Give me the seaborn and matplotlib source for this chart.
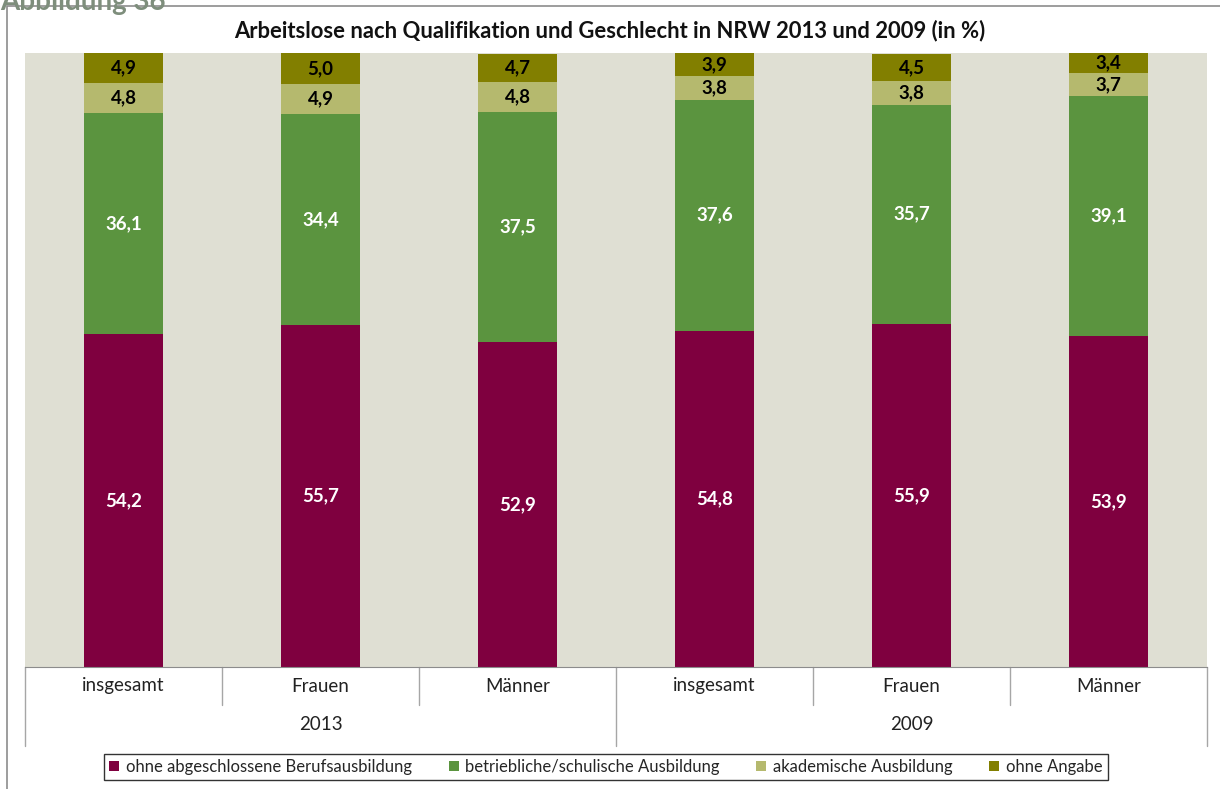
import pandas as pd
import seaborn as sns
import matplotlib.pyplot as plt
from matplotlib.patches import Rectangle, Patch
from matplotlib.lines import Line2D

# data
years = ['2013', '2013', '2013', '2009', '2009', '2009']
groups = ['insgesamt', 'Frauen', 'Männer', 'insgesamt', 'Frauen', 'Männer']
ohne_abschluss = [54.2, 55.7, 52.9, 54.8, 55.9, 53.9]
betrieblich = [36.1, 34.4, 37.5, 37.6, 35.7, 39.1]
akademisch = [4.8, 4.9, 4.8, 3.8, 3.8, 3.7]
ohne_angabe = [4.9, 5.0, 4.7, 3.9, 4.5, 3.4]

series_names = ['ohne abgeschlossene Berufsausbildung', 'betriebliche/schulische Ausbildung',
                'akademische Ausbildung', 'ohne Angabe']
series_values = [ohne_abschluss, betrieblich, akademisch, ohne_angabe]
colors = ['#7F003F', '#5B943F', '#B5B96E', '#827F00']
text_colors = ['white', 'white', 'black', 'black']

sns.set_style('white')
plt.rcParams['font.family'] = ['Lato', 'DejaVu Sans']

keys = [f'{y} {g}' for y, g in zip(years, groups)]

fig = plt.figure(figsize=(12.2, 7.89), dpi=100)
ax = fig.add_axes([25 / 1220, 1 - 667 / 789, (1207 - 25) / 1220, (667 - 53) / 789])
ax.set_facecolor('#DFDFD3')

bottom = [0.0] * len(keys)
for name, vals, col, tcol in zip(series_names, series_values, colors, text_colors):
    df = pd.DataFrame({'key': keys, 'value': vals})
    sns.barplot(data=df, x='key', y='value', order=keys, color=col, width=0.4,
                bottom=bottom, ax=ax, saturation=1, linewidth=0)
    for i, v in enumerate(vals):
        ax.text(i, bottom[i] + v / 2, f'{v:.1f}'.replace('.', ','), ha='center', va='center',
                color=tcol, fontsize=13.5, fontweight='bold')
    bottom = [b + v for b, v in zip(bottom, vals)]

ax.set_ylim(0, 100)
ax.set_xlim(-0.5, 5.5)
ax.set_yticks([])
ax.set_xticks([])
ax.set_xlabel('')
ax.set_ylabel('')
for s in ['top', 'right', 'left']:
    ax.spines[s].set_visible(False)
ax.spines['bottom'].set_color('#8C8C8C')

# two-level category axis
row_h = 38 / 614
line_kw = dict(color='#A6A6A6', lw=1, transform=ax.transAxes, clip_on=False)
for i, g in enumerate(groups):
    ax.text((i + 0.5) / 6, -row_h / 2, g, transform=ax.transAxes, ha='center', va='center',
            fontsize=13.5, color='#222222')
for xb in [0, 3 / 6, 1]:
    ax.add_line(Line2D([xb, xb], [0, -2 * row_h - 3 / 614], **line_kw))
for xb in [1 / 6, 2 / 6, 4 / 6, 5 / 6]:
    ax.add_line(Line2D([xb, xb], [0, -row_h], **line_kw))
for j, y in enumerate(['2013', '2009']):
    ax.text((j * 3 + 1.5) / 6, -1.5 * row_h, y, transform=ax.transAxes, ha='center',
            va='center', fontsize=13.5, color='#222222')

fig.text(610 / 1220, 1 - 31 / 789,
         'Arbeitslose nach Qualifikation und Geschlecht in NRW 2013 und 2009 (in %)',
         ha='center', va='center', fontsize=15.8, fontweight='bold', color='#111111')

# figure label, cut at the top edge as in the source
fig.text(0.0, 1 - 10 / 789, 'Abbildung 36', ha='left', va='baseline', fontsize=20,
         fontweight='bold', color='#7E8E7C')

# outer frame
fig.patches.append(Rectangle((7 / 1220, -0.05), 1.2, 1 - 6 / 789 + 0.05, transform=fig.transFigure,
                             fill=False, edgecolor='#8C8C8C', lw=1.2))

handles = [Patch(facecolor=c, edgecolor='none') for c in colors]
leg = fig.legend(handles, series_names, loc='center', bbox_to_anchor=(606 / 1220, 1 - 767 / 789),
                 ncol=4, frameon=True, fontsize=12, handlelength=0.6, handleheight=0.6,
                 handletextpad=0.4, columnspacing=2.2, borderpad=0.3, fancybox=False)
leg.get_frame().set_edgecolor('black')
leg.get_frame().set_linewidth(1)

fig.savefig('out.png', dpi=100)
